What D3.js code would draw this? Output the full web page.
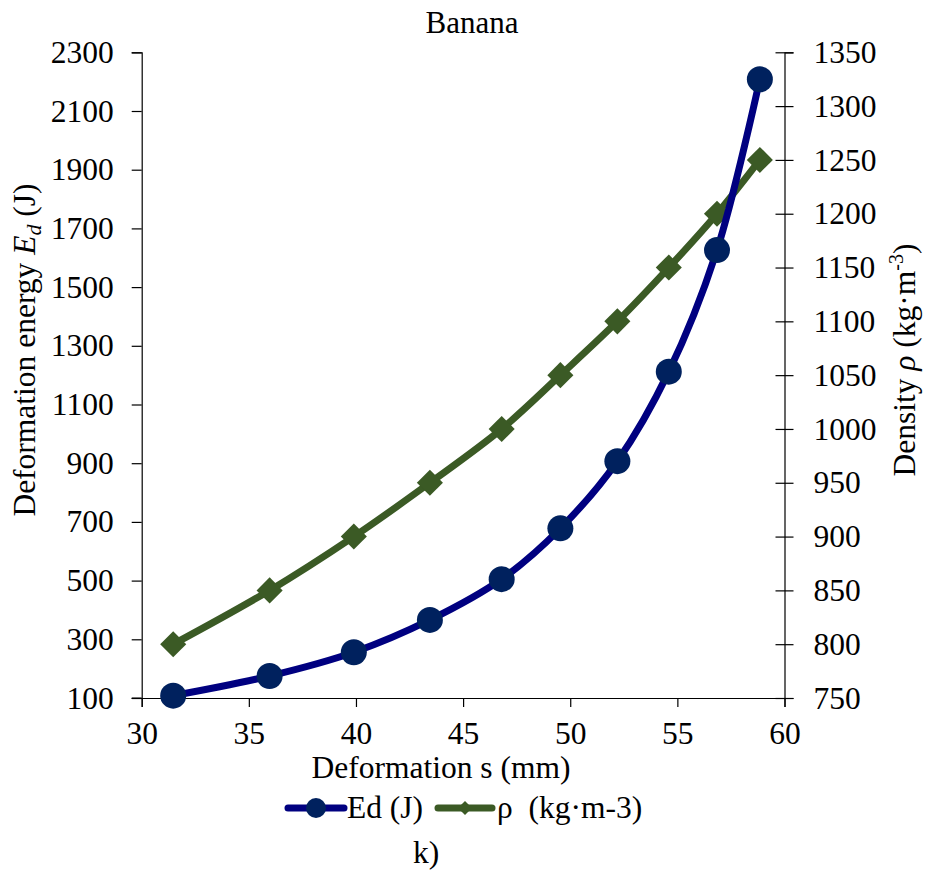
<!DOCTYPE html>
<html>
<head>
<meta charset="utf-8">
<script src="https://cdn.jsdelivr.net/npm/d3@7"></script>
<style>
  body { margin: 0; background: #fff; }
</style>
</head>
<body>
<script>
// deformation s (mm)
let deformation = [31.47, 35.97, 39.9, 43.45, 46.8, 49.54, 52.2, 54.6, 56.85, 58.85];
// deformation energy Ed (J)
let energy = [108, 175, 256, 366, 505, 678, 907, 1212, 1626, 2208];
// density rho (kg/m3)
let density = [800, 850, 900, 950, 1000, 1050, 1100, 1150, 1200, 1250];

let xTicks = [30, 35, 40, 45, 50, 55, 60];
let leftTicks = [100, 300, 500, 700, 900, 1100, 1300, 1500, 1700, 1900, 2100, 2300];
let rightTicks = [750, 800, 850, 900, 950, 1000, 1050, 1100, 1150, 1200, 1250, 1300, 1350];

let svgWidth = 929, svgHeight = 873;
let plotLeft = 141.7, plotRight = 784.5, plotTop = 52.3, plotBottom = 698;

let blue = "#000080", blueMark = "#00215e", green = "#3b5a25";
let serif = "'Liberation Serif', 'Times New Roman', serif";
let fs = "31.5px";

const svg = d3.select("body").append("svg")
  .attr("width", svgWidth)
  .attr("height", svgHeight)
  .style("font-family", serif);

const x = d3.scaleLinear().domain([30, 60]).range([plotLeft, plotRight]);
const yL = d3.scaleLinear().domain([100, 2300]).range([plotBottom, plotTop]);
const yR = d3.scaleLinear().domain([750, 1350]).range([plotBottom, plotTop]);

// title
svg.append("text")
  .attr("x", 472).attr("y", 33)
  .attr("text-anchor", "middle")
  .style("font-size", "31px")
  .text("Banana");

// left axis
const gL = svg.append("g").attr("transform", "translate(" + plotLeft + ",0)")
  .call(d3.axisLeft(yL).tickValues(leftTicks).tickFormat(d3.format("d")).tickSize(10).tickPadding(18));
// right axis
const gR = svg.append("g").attr("transform", "translate(" + plotRight + ",0)")
  .call(d3.axisRight(yR).tickValues(rightTicks).tickFormat(d3.format("d")).tickSize(9).tickPadding(20));
gR.selectAll(".tick line").attr("x1", -9);
// bottom axis
const gB = svg.append("g").attr("transform", "translate(0," + plotBottom + ")")
  .call(d3.axisBottom(x).tickValues(xTicks).tickFormat(d3.format("d")).tickSize(9).tickPadding(15));
svg.append("line")
  .attr("x1", plotLeft - 10).attr("x2", plotLeft)
  .attr("y1", plotBottom).attr("y2", plotBottom)
  .attr("stroke", "#000");

[gL, gR, gB].forEach(function(g) {
  g.attr("font-family", null).attr("font-size", null);
  g.selectAll("path").attr("stroke", "#000").attr("stroke-width", 1.2);
  g.selectAll(".tick line").attr("stroke", "#000").attr("stroke-width", 1.2);
  g.selectAll("text")
    .style("font-size", fs)
    .style("font-family", serif)
    .attr("fill", "#000");
});
gB.selectAll(".tick text").attr("dy", "0.71em");

// axis titles
svg.append("text")
  .attr("x", 441).attr("y", 778)
  .attr("text-anchor", "middle")
  .style("font-size", fs)
  .text("Deformation s (mm)");

const tL = svg.append("text")
  .attr("transform", "translate(35,350) rotate(-90)")
  .attr("text-anchor", "middle")
  .style("font-size", fs);
tL.append("tspan").text("Deformation energy ");
tL.append("tspan").style("font-style", "italic").text("E");
tL.append("tspan").style("font-style", "italic").style("font-size", "22px").attr("dy", 6).text("d");
tL.append("tspan").attr("dy", -6).text(" (J)");

const tR = svg.append("text")
  .attr("transform", "translate(915,360) rotate(-90)")
  .attr("text-anchor", "middle")
  .style("font-size", fs);
tR.append("tspan").text("Density ");
tR.append("tspan").style("font-style", "italic").text("ρ");
tR.append("tspan").text(" (kg·m");
tR.append("tspan").style("font-size", "20px").attr("dy", -12).text("-3");
tR.append("tspan").attr("dy", 12).text(")");

// series
const lineE = d3.line()
  .x(function(d, i) { return x(deformation[i]); })
  .y(function(d) { return yL(d); })
  .curve(d3.curveCatmullRom.alpha(0.5));
const lineR = d3.line()
  .x(function(d, i) { return x(deformation[i]); })
  .y(function(d) { return yR(d); })
  .curve(d3.curveCatmullRom.alpha(0.5));

svg.append("path")
  .datum(density)
  .attr("d", lineR)
  .attr("fill", "none")
  .attr("stroke", green)
  .attr("stroke-width", 7);

svg.selectAll(".dia")
  .data(density)
  .enter()
  .append("path")
  .attr("class", "dia")
  .attr("d", d3.symbol().type(d3.symbolSquare).size(340))
  .attr("transform", function(d, i) {
    return "translate(" + x(deformation[i]) + "," + yR(d) + ") rotate(45)";
  })
  .attr("fill", green);

svg.append("path")
  .datum(energy)
  .attr("d", lineE)
  .attr("fill", "none")
  .attr("stroke", blue)
  .attr("stroke-width", 7);

svg.selectAll(".dot")
  .data(energy)
  .enter()
  .append("circle")
  .attr("class", "dot")
  .attr("cx", function(d, i) { return x(deformation[i]); })
  .attr("cy", function(d) { return yL(d); })
  .attr("r", 13)
  .attr("fill", blueMark);

// legend
const leg = svg.append("g");
leg.append("line")
  .attr("x1", 288).attr("x2", 344).attr("y1", 808).attr("y2", 808)
  .attr("stroke", blue).attr("stroke-width", 7).attr("stroke-linecap", "round");
leg.append("circle")
  .attr("cx", 316).attr("cy", 808).attr("r", 10).attr("fill", blueMark);
leg.append("text")
  .attr("x", 347).attr("y", 818)
  .style("font-size", fs)
  .text("Ed (J)");
leg.append("line")
  .attr("x1", 438).attr("x2", 492).attr("y1", 808).attr("y2", 808)
  .attr("stroke", green).attr("stroke-width", 7).attr("stroke-linecap", "round");
leg.append("path")
  .attr("d", d3.symbol().type(d3.symbolSquare).size(100))
  .attr("transform", "translate(465,808) rotate(45)")
  .attr("fill", green);
leg.append("text")
  .attr("x", 497).attr("y", 818)
  .style("font-size", fs)
  .style("white-space", "pre")
  .text("ρ  (kg·m-3)");

svg.append("text")
  .attr("x", 426).attr("y", 863)
  .attr("text-anchor", "middle")
  .style("font-size", fs)
  .text("k)");
</script>
</body>
</html>
